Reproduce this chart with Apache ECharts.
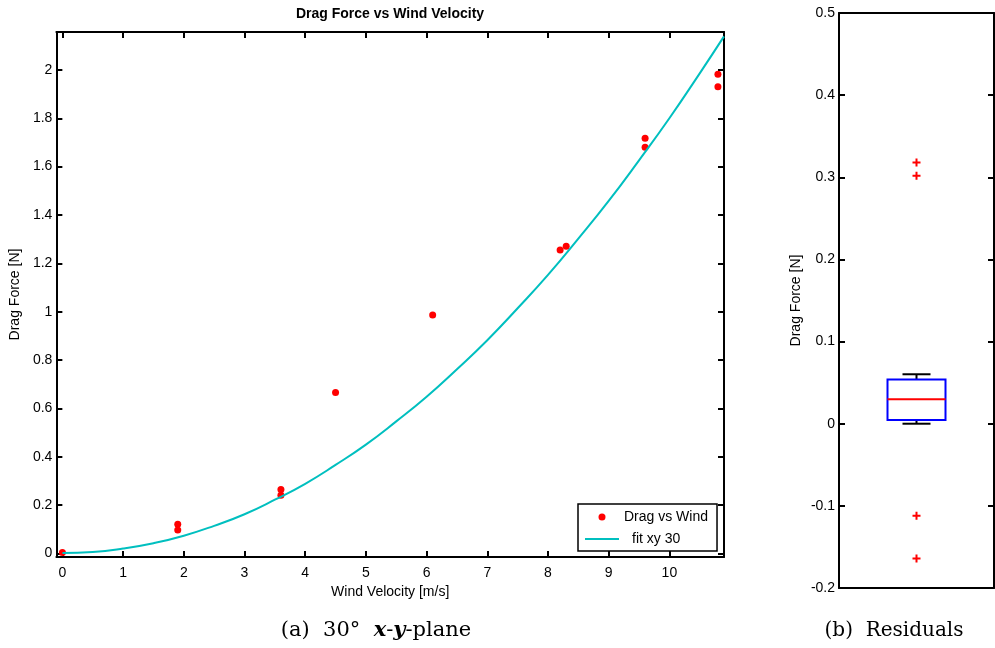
<!DOCTYPE html>
<html>
<head>
<meta charset="utf-8">
<script src="https://cdn.jsdelivr.net/npm/echarts@6/dist/echarts.min.js"></script>
<style>
  html, body { margin: 0; padding: 0; background: #fff; }
  #chart { width: 995px; height: 648px; }
</style>
</head>
<body>
<div id="chart"></div>
<script>
// Measured drag force against wind velocity (30° x-y-plane)
const windVelocity = [0, 1.9, 1.9, 3.6, 3.6, 4.5, 6.1, 8.2, 8.3, 9.6, 9.6, 10.8, 10.8];
const dragForce = [0.004, 0.120, 0.097, 0.264, 0.240, 0.666, 0.986, 1.255, 1.271, 1.717, 1.680, 1.982, 1.931];

// Fitted curve "fit xy 30"
const fitVelocity = [0, 0.5, 1, 1.5, 2, 2.5, 3, 3.5, 4, 4.5, 5, 5.5, 6, 6.5, 7, 7.5, 8, 8.5, 9, 9.5, 10, 10.5, 10.9];
const fitForce = [0.002, 0.006, 0.020, 0.042, 0.073, 0.114, 0.162, 0.222, 0.288, 0.366, 0.450, 0.546, 0.648,
                  0.762, 0.882, 1.014, 1.152, 1.302, 1.458, 1.626, 1.800, 1.986, 2.139];

const xTicks = [0, 1, 2, 3, 4, 5, 6, 7, 8, 9, 10];
const yTicks = [0, 0.2, 0.4, 0.6, 0.8, 1, 1.2, 1.4, 1.6, 1.8, 2];

// Residual box statistics: lower whisker, Q1, median, Q3, upper whisker
const residualBox = [0.000, 0.0045, 0.0297, 0.0537, 0.0602];
const residualOutliers = [0.318, 0.302, -0.112, -0.164];
const residualTicks = [-0.2, -0.1, 0, 0.1, 0.2, 0.3, 0.4, 0.5];

const SANS = '"Liberation Sans", Arial, Helvetica, sans-serif';
const SERIF = '"DejaVu Serif", "Liberation Serif", serif';
const BLACK = '#000';
const CYAN = '#00bfbf';

const lineBlack = { lineStyle: { color: BLACK, width: 2 }, onZero: false };
const labelStyle = { color: BLACK, fontSize: 14, fontFamily: SANS };

function valueAxis(extra) {
  return Object.assign({
    type: 'value',
    scale: false,
    axisLine: lineBlack,
    splitLine: { show: false }
  }, extra);
}

const chart = echarts.init(document.getElementById('chart'), null, { renderer: 'canvas' });

const option = {
  animation: false,
  backgroundColor: '#fff',
  grid: [
    { left: 56, top: 32, width: 668, height: 525 },
    { left: 839, top: 13, width: 155, height: 575 }
  ],
  xAxis: [
    valueAxis({
      gridIndex: 0, position: 'bottom', min: -0.1, max: 10.9,
      axisTick: { inside: true, length: 6, customValues: xTicks, lineStyle: { color: BLACK, width: 2 } },
      axisLabel: Object.assign({ customValues: xTicks, margin: 9 }, labelStyle),
      name: 'Wind Velocity [m/s]', nameLocation: 'middle', nameGap: 26,
      nameTextStyle: { color: BLACK, fontSize: 14, fontFamily: SANS }
    }),
    valueAxis({
      gridIndex: 0, position: 'top', min: -0.1, max: 10.9,
      axisTick: { inside: true, length: 6, customValues: xTicks, lineStyle: { color: BLACK, width: 2 } },
      axisLabel: { show: false }
    }),
    valueAxis({
      gridIndex: 1, position: 'bottom', min: 0, max: 2,
      axisTick: { show: false }, axisLabel: { show: false }
    }),
    valueAxis({
      gridIndex: 1, position: 'top', min: 0, max: 2,
      axisTick: { show: false }, axisLabel: { show: false }
    })
  ],
  yAxis: [
    valueAxis({
      gridIndex: 0, position: 'left', min: -0.015, max: 2.157,
      axisTick: { inside: true, length: 6, customValues: yTicks, lineStyle: { color: BLACK, width: 2 } },
      axisLabel: Object.assign({ customValues: yTicks, margin: 4 }, labelStyle),
      name: 'Drag Force [N]', nameLocation: 'middle', nameGap: 27,
      nameTextStyle: { color: BLACK, fontSize: 14, fontFamily: SANS }
    }),
    valueAxis({
      gridIndex: 0, position: 'right', min: -0.015, max: 2.157,
      axisTick: { inside: true, length: 6, customValues: yTicks, lineStyle: { color: BLACK, width: 2 } },
      axisLabel: { show: false }
    }),
    valueAxis({
      gridIndex: 1, position: 'left', min: -0.2, max: 0.5,
      axisTick: { inside: true, length: 6, customValues: residualTicks, lineStyle: { color: BLACK, width: 2 } },
      axisLabel: Object.assign({ customValues: residualTicks, margin: 4 }, labelStyle),
      name: 'Drag Force [N]', nameLocation: 'middle', nameGap: 36,
      nameTextStyle: { color: BLACK, fontSize: 14, fontFamily: SANS }
    }),
    valueAxis({
      gridIndex: 1, position: 'right', min: -0.2, max: 0.5,
      axisTick: { inside: true, length: 6, customValues: residualTicks, lineStyle: { color: BLACK, width: 2 } },
      axisLabel: { show: false }
    })
  ],
  legend: {
    data: [
      { name: 'Drag vs Wind' },
      { name: 'fit xy 30', icon: 'path://M0,0H34V2H0Z', itemStyle: { color: CYAN } }
    ],
    orient: 'vertical',
    left: 578, top: 504,
    padding: [5, 9, 4, 7],
    itemGap: 6,
    itemWidth: 34, itemHeight: 7,
    backgroundColor: '#fff',
    borderColor: BLACK, borderWidth: 1.5, borderRadius: 0,
    selectedMode: false,
    formatter: name => name === 'fit xy 30' ? '{s|' + name + '}' : name,
    textStyle: {
      color: BLACK, fontSize: 14, fontFamily: SANS, lineHeight: 16,
      rich: { s: { color: BLACK, fontSize: 14, fontFamily: SANS, padding: [0, 0, 0, 8] } }
    }
  },
  graphic: [
    {
      type: 'text', x: 390, y: 14,
      style: { text: 'Drag Force vs Wind Velocity', align: 'center', verticalAlign: 'middle',
               fontSize: 14, fontWeight: 'bold', fontFamily: SANS, fill: BLACK }
    },
    {
      type: 'text', x: 376, y: 631,
      style: {
        text: '(a)  30°  {m|x}-{m|y}-plane', align: 'center', verticalAlign: 'middle',
        fontSize: 21, fontFamily: SERIF, fill: BLACK,
        rich: { m: { fontSize: 21, fontFamily: SERIF, fontStyle: 'italic', fontWeight: 'bold', fill: BLACK, color: BLACK } }
      }
    },
    {
      type: 'text', x: 894, y: 631,
      style: { text: '(b)  Residuals', align: 'center', verticalAlign: 'middle',
               fontSize: 20, fontFamily: SERIF, fill: BLACK }
    }
  ],
  series: [
    {
      name: 'Drag vs Wind',
      type: 'scatter',
      xAxisIndex: 0, yAxisIndex: 0,
      symbol: 'circle', symbolSize: 7,
      itemStyle: { color: '#ff0000', opacity: 1 },
      data: windVelocity.map((v, i) => [v, dragForce[i]])
    },
    {
      name: 'fit xy 30',
      type: 'line',
      xAxisIndex: 0, yAxisIndex: 0,
      smooth: true,
      symbol: 'none',
      lineStyle: { color: CYAN, width: 2 },
      itemStyle: { color: CYAN },
      data: fitVelocity.map((v, i) => [v, fitForce[i]])
    },
    {
      name: 'Residuals',
      type: 'custom',
      xAxisIndex: 2, yAxisIndex: 2,
      data: [[1].concat(residualBox)],
      renderItem: (params, api) => {
        const xv = api.value(0);
        const cx = api.coord([xv, 0])[0];
        const py = i => api.coord([xv, api.value(i)])[1];
        const lo = py(1), q1 = py(2), md = py(3), q3 = py(4), hi = py(5);
        const hw = 29, cw = 14;
        const black = { stroke: BLACK, lineWidth: 2 };
        return {
          type: 'group',
          children: [
            { type: 'line', shape: { x1: cx, y1: hi, x2: cx, y2: q3 }, style: black },
            { type: 'line', shape: { x1: cx, y1: q1, x2: cx, y2: lo }, style: black },
            { type: 'line', shape: { x1: cx - cw, y1: hi, x2: cx + cw, y2: hi }, style: black },
            { type: 'line', shape: { x1: cx - cw, y1: lo, x2: cx + cw, y2: lo }, style: black },
            { type: 'rect', shape: { x: cx - hw, y: q3, width: 2 * hw, height: q1 - q3 },
              style: { fill: 'none', stroke: '#0000ff', lineWidth: 2 } },
            { type: 'line', shape: { x1: cx - hw, y1: md, x2: cx + hw, y2: md },
              style: { stroke: '#ff0000', lineWidth: 2 } }
          ]
        };
      }
    },
    {
      name: 'Outliers',
      type: 'scatter',
      xAxisIndex: 2, yAxisIndex: 2,
      symbol: 'path://M3,0H5V3H8V5H5V8H3V5H0V3H3Z',
      symbolSize: 8,
      itemStyle: { color: '#ff0000', opacity: 1 },
      data: residualOutliers.map(v => [1, v])
    }
  ]
};

chart.setOption(option);
</script>
</body>
</html>
